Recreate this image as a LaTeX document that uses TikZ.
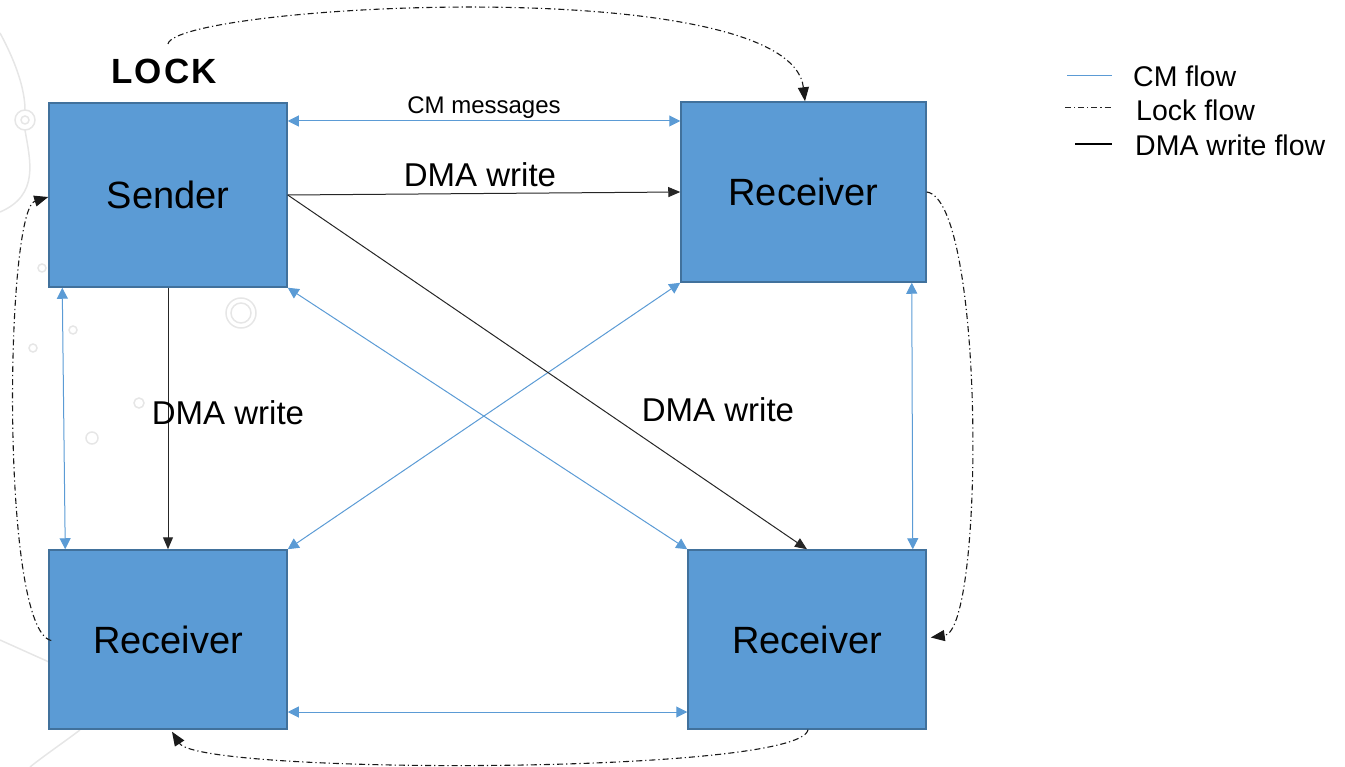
\documentclass[tikz,border=0pt]{standalone}
\usepackage{fontspec}
\setmainfont{Liberation Sans}
\usetikzlibrary{arrows.meta}
\definecolor{boxfill}{HTML}{5B9BD5}
\definecolor{boxline}{HTML}{41719C}
\definecolor{cmblue}{HTML}{5B9BD5}
\definecolor{deco}{HTML}{E6E6E6}
\tikzset{
  box/.style={draw=boxline, line width=1.5pt, fill=boxfill, inner sep=0pt,
    font=\fontsize{38}{38}\selectfont, text=black},
  cmflow/.style={draw=cmblue, line width=1pt, {Triangle[length=11pt,width=11pt]}-{Triangle[length=11pt,width=11pt]}},
  dmaflow/.style={draw=black!85, line width=1pt, -{Triangle[length=12pt,width=10pt]}},
  lockflow/.style={draw=black!90, line width=1.1pt, dash pattern=on 6pt off 3pt on 1.2pt off 3pt,
    -{Triangle[length=14pt,width=11pt]}},
  lbl/.style={font=\fontsize{33}{33}\selectfont, inner sep=0pt},
  smalllbl/.style={font=\fontsize{24}{24}\selectfont, inner sep=0pt},
  leg/.style={font=\fontsize{28.5}{28.5}\selectfont, inner sep=0pt, anchor=west},
}
\begin{document}
\begin{tikzpicture}[x=1pt,y=-1pt]
\useasboundingbox (0,0) rectangle (1345,767);
% decorative background
\begin{scope}[draw=deco, line width=1.5pt]
  \draw (0,33) .. controls (20,70) and (25,95) .. (25,110);
  \draw (25,130) .. controls (30,160) and (40,195) .. (0,212);
  \draw (25,120) circle (10);
  \draw (25,120) circle (4);
  \draw (241,313) circle (15);
  \draw (241,313) circle (10);
  \draw (73,330) circle (4);
  \draw (33,348) circle (4);
  \draw (139,403) circle (5);
  \draw (92,438) circle (6);
  \draw (42,268) circle (4);
  \draw (0,640) -- (49,662);
  \draw (80,730) .. controls (60,745) and (45,755) .. (30,767);
\end{scope}
% boxes
\node[box, minimum width=238pt, minimum height=184pt] (S) at (168,195) {Sender};
\node[box, minimum width=245pt, minimum height=180pt] (TR) at (803.5,192) {Receiver};
\node[box, minimum width=238pt, minimum height=179pt] (BL) at (168,639.5) {Receiver};
\node[box, minimum width=238pt, minimum height=179pt] (BR) at (807,639.5) {Receiver};
% LOCK label
\node[font=\fontsize{35}{35}\selectfont\bfseries\addfontfeature{LetterSpace=6}, inner sep=0pt] (lock) at (164,71) {LOCK};
% CM flows
\draw[cmflow] (S.east |- 0,121) -- node[smalllbl, above=2pt] (cmlbl) {CM messages} (TR.west |- 0,121);
\draw[cmflow] ([xshift=14pt]S.south west) -- ([xshift=17pt]BL.north west);
\draw[cmflow] (S.south east) -- (BR.north west);
\draw[cmflow] (TR.south west) -- (BL.north east);
\draw[cmflow] ([xshift=-15pt]TR.south east) -- ([xshift=-14pt]BR.north east);
\draw[cmflow] (BL.east |- 0,712) -- (BR.west |- 0,712);
% DMA flows
\draw[dmaflow] (S.east) -- (TR.west);
\node[lbl] (d1) at (480,175) {DMA write};
\draw[dmaflow] (S.east) -- (BR.north);
\node[lbl] (d2) at (718,410) {DMA write};
\draw[dmaflow] (S.south) -- (BL.north);
\node[lbl] (d3) at (228,413) {DMA write};
% Lock flows
\coordinate (ls) at (168,44);
\draw[lockflow] (ls) .. controls (175,5) and (790,-30) .. ([xshift=1.5pt]TR.north);
\draw[lockflow] (TR.east) .. controls (985,200) and (985,630) .. ([xshift=4pt,yshift=2pt]BR.east);
\draw[lockflow] ([xshift=1pt]BR.south) .. controls (800,775) and (200,775) .. ([xshift=4pt,yshift=-2pt]BL.south);
\draw[lockflow] ([xshift=3pt,yshift=-1pt]BL.west) .. controls (0,630) and (5,210) .. ([yshift=-2pt]S.west);
% legend
\coordinate (l1a) at (1067,76); \coordinate (l1b) at (1112,76);
\draw[draw=cmblue, line width=1pt] (l1a) -- (l1b);
\node[leg] (t1) at (1133,76) {CM flow};
\coordinate (l2a) at (1065,108); \coordinate (l2b) at (1112,108);
\draw[draw=black!85, line width=1pt, dash pattern=on 6pt off 3pt on 1.2pt off 3pt] (l2a) -- (l2b);
\node[leg] (t2) at (1136,110) {Lock flow};
\coordinate (l3a) at (1075,144); \coordinate (l3b) at (1112,144);
\draw[draw=black, line width=1.2pt] (l3a) -- (l3b);
\node[leg] (t3) at (1135,145) {DMA write flow};
\end{tikzpicture}
\end{document}
